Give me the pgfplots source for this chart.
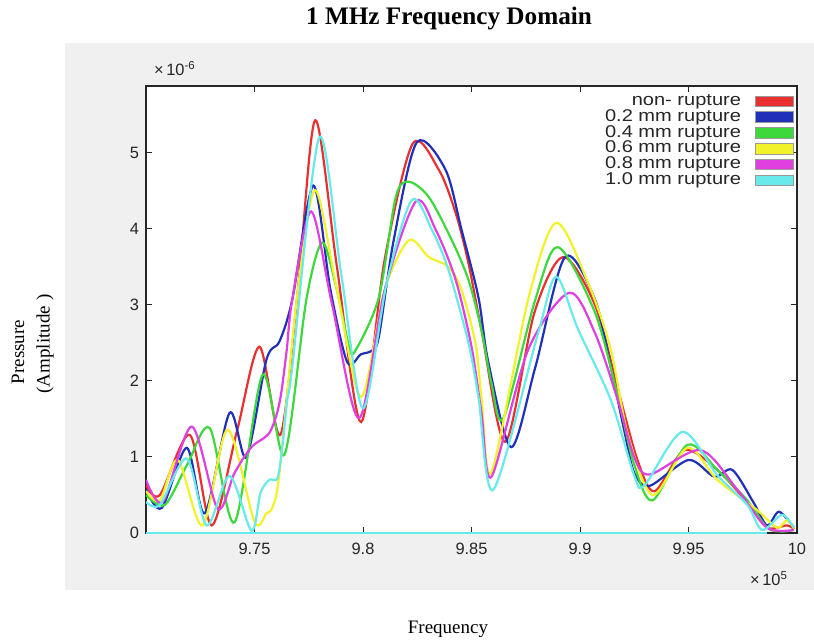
\documentclass[border=0pt]{standalone}
\usepackage{pgfplots}
\pgfplotsset{compat=1.18}
\usepackage{graphicx}
\usepackage{fontspec}
\setmainfont{Liberation Serif}
\setsansfont{Liberation Sans}
\definecolor{figgray}{HTML}{F0F0F0}
\definecolor{ticktext}{HTML}{262626}
\definecolor{cred}{HTML}{E83030}
\definecolor{cblue}{HTML}{2030B8}
\definecolor{cgreen}{HTML}{3CD83C}
\definecolor{cyellow}{HTML}{F2F22A}
\definecolor{cmag}{HTML}{E040E0}
\definecolor{ccyan}{HTML}{68EAEA}
\newcommand{\leg}[1]{\scalebox{1.18}[1]{#1}\kern6pt}
\begin{document}
\begin{tikzpicture}[x=1pt,y=1pt]
\path[use as bounding box] (-73,-53) rectangle (334,266.5);
\fill[figgray] (-40.5,-28.5) rectangle (334,245);
\begin{axis}[
  at={(0,0)}, anchor=south west,
  scale only axis, width=325.5pt, height=223.5pt,
  xmin=9.7, xmax=10, ymin=0, ymax=5.88,
  xtick={9.75,9.8,9.85,9.9,9.95,10},
  ytick={0,1,2,3,4,5},
  scaled ticks=false,
  /pgf/number format/assume math mode=true,
  tick label style={font=\sffamily\fontsize{8.2}{9}\selectfont, text=ticktext},
  xticklabel style={yshift=-1.5pt},
  tick style={black!85, line width=0.5pt},
  major tick length=3pt,
  axis line style={black!85, line width=0.6pt},
  axis background/.style={fill=white},
  legend style={at={(rel axis cs:0.997,0.989)}, anchor=north east, draw=none, fill=none,
    font=\sffamily\fontsize{8.5}{8.5}\selectfont, text=ticktext, inner sep=0.5pt,
    row sep=-1.5pt, nodes={inner sep=1pt}},
  legend cell align=right,
  legend plot pos=right,
  legend image code/.code={\filldraw[#1, draw=black!40, line width=0.3pt] (0pt,-2.7pt) rectangle (19pt,2.7pt);},
  every axis plot/.append style={line width=1.1pt, smooth},
]
\addplot[ccyan, forget plot, smooth=false, line width=1.2pt] coordinates {(9.7,0) (9.986,0)};
\addplot[cred] coordinates {
(9.7000,0.63) (9.7064,0.50) (9.7202,1.29) (9.7303,0.10) (9.7420,1.35) (9.7523,2.45)
(9.7619,1.29) (9.7700,3.20) (9.7780,5.43) (9.7880,3.50) (9.7991,1.46) (9.8100,3.60)
(9.8229,5.12) (9.8349,4.78) (9.8427,4.21) (9.8486,3.55) (9.8546,2.67) (9.8656,1.20)
(9.8790,2.90) (9.8922,3.63) (9.9069,3.00) (9.9174,1.90) (9.9266,0.95) (9.9344,0.55)
(9.9482,1.09) (9.9633,0.83) (9.9771,0.40) (9.9862,0.07) (9.9954,0.10) (9.9986,0.05)};
\addlegendentry{\leg{non- rupture}}
\addplot[cblue] coordinates {
(9.7000,0.57) (9.7073,0.33) (9.7188,1.12) (9.7271,0.26) (9.7385,1.58) (9.7463,1.00)
(9.7555,2.28) (9.7615,2.52) (9.7674,3.07) (9.7771,4.57) (9.7850,3.20) (9.7927,2.25)
(9.7990,2.35) (9.8041,2.40) (9.8073,2.58) (9.8142,3.86) (9.8248,5.14) (9.8380,4.78)
(9.8454,3.99) (9.8532,3.10) (9.8578,2.24) (9.8683,1.13) (9.8794,2.18) (9.8931,3.63)
(9.9069,3.07) (9.9142,2.18) (9.9206,1.32) (9.9250,0.79) (9.9321,0.62) (9.9500,0.96)
(9.9619,0.74) (9.9702,0.83) (9.9800,0.40) (9.9862,0.10) (9.9917,0.28) (9.9986,0.07)};
\addlegendentry{\leg{0.2 mm rupture}}
\addplot[cgreen] coordinates {
(9.7000,0.50) (9.7087,0.37) (9.7190,0.90) (9.7294,1.38) (9.7408,0.14) (9.7537,2.08)
(9.7638,1.03) (9.7739,3.07) (9.7812,3.82) (9.7876,3.24) (9.7936,2.45) (9.7965,2.40)
(9.8073,3.10) (9.8151,4.42) (9.8211,4.62) (9.8303,4.42) (9.8408,3.86) (9.8486,3.33)
(9.8546,2.67) (9.8592,1.97) (9.8647,1.51) (9.8794,3.07) (9.8899,3.76) (9.9069,2.90)
(9.9174,1.80) (9.9250,0.90) (9.9335,0.43) (9.9495,1.16) (9.9633,0.83) (9.9771,0.43)
(9.9862,0.07) (9.9931,0.02) (9.9986,0.04)};
\addlegendentry{\leg{0.4 mm rupture}}
\addplot[cyellow] coordinates {
(9.7000,0.55) (9.7064,0.43) (9.7147,0.96) (9.7261,0.10) (9.7376,1.36) (9.7500,0.15)
(9.7555,0.26) (9.7583,0.34) (9.7615,0.79) (9.7700,3.20) (9.7780,4.51) (9.7880,3.20)
(9.7991,1.79) (9.8100,3.20) (9.8211,3.85) (9.8303,3.63) (9.8394,3.50) (9.8454,3.20)
(9.8518,2.50) (9.8546,1.79) (9.8592,0.80) (9.8761,3.07) (9.8890,4.08) (9.9037,3.29)
(9.9142,2.41) (9.9220,1.30) (9.9335,0.50) (9.9495,1.12) (9.9633,0.70) (9.9817,0.30)
(9.9908,0.07) (9.9954,0.17) (9.9986,0.06)};
\addlegendentry{\leg{0.6 mm rupture}}
\addplot[cmag] coordinates {
(9.7000,0.70) (9.7078,0.41) (9.7211,1.40) (9.7330,0.32) (9.7408,0.79) (9.7486,1.13)
(9.7569,1.32) (9.7615,1.71) (9.7647,2.37) (9.7674,3.07) (9.7761,4.23) (9.7858,3.00)
(9.7982,1.51) (9.8100,3.20) (9.8243,4.36) (9.8335,3.99) (9.8427,3.33) (9.8500,2.45)
(9.8546,1.58) (9.8592,0.74) (9.8761,2.41) (9.8950,3.16) (9.9069,2.63) (9.9174,1.75)
(9.9250,1.00) (9.9321,0.77) (9.9555,1.09) (9.9725,0.57) (9.9862,0.07) (9.9986,0.04)};
\addlegendentry{\leg{0.8 mm rupture}}
\addplot[ccyan] coordinates {
(9.7000,0.41) (9.7064,0.37) (9.7188,0.98) (9.7280,0.10) (9.7385,0.75) (9.7486,0.03)
(9.7528,0.53) (9.7569,0.70) (9.7606,0.72) (9.7628,1.13) (9.7651,1.75) (9.7674,2.18)
(9.7798,5.20) (9.7900,3.40) (9.8000,1.64) (9.8110,3.30) (9.8225,4.38) (9.8317,3.99)
(9.8394,3.46) (9.8486,2.50) (9.8532,1.79) (9.8601,0.57) (9.8807,2.63) (9.8890,3.37)
(9.8991,2.68) (9.9142,1.75) (9.9252,0.74) (9.9298,0.63) (9.9472,1.33) (9.9633,0.76)
(9.9771,0.37) (9.9839,0.04) (9.9931,0.24) (9.9986,0.07)};
\addlegendentry{\leg{1.0 mm rupture}}
\end{axis}
\node[anchor=base west, font=\sffamily\fontsize{8.2}{9}\selectfont, text=ticktext] at (0.5,229) {×\,10\textsuperscript{-6}};
\node[anchor=base east, font=\sffamily\fontsize{8.2}{9}\selectfont, text=ticktext] at (324.5,-26) {×\,10\textsuperscript{5}};
\node[anchor=base, font=\bfseries\fontsize{12.6}{14}\selectfont] at (151.5,254.5) {1 MHz Frequency Domain};
\node[anchor=base, font=\fontsize{9.5}{11}\selectfont] at (151,-50) {Frequency};
\node[rotate=90, font=\fontsize{9.5}{11}\selectfont] at (-64,90.5) {Pressure};
\node[rotate=90, font=\fontsize{9.5}{11}\selectfont] at (-50.5,94.5) {(Amplitude )};
\end{tikzpicture}
\end{document}
